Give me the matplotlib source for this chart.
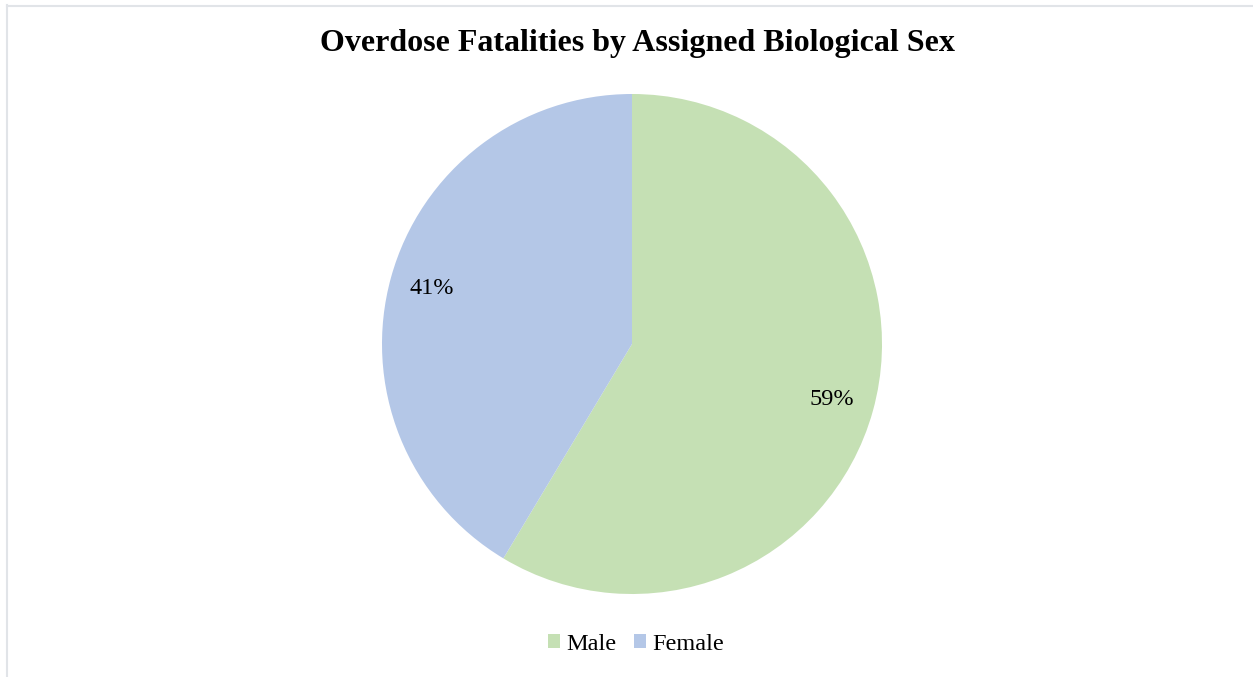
import matplotlib.pyplot as plt
from matplotlib.lines import Line2D

plt.rcParams['font.family'] = ['Liberation Serif', 'DejaVu Serif']

labels = ['Male', 'Female']
values = [58.6, 41.4]
colors = ['#C5E0B4', '#B4C7E7']

W, H = 1253, 677
fig = plt.figure(figsize=(W / 100, H / 100), dpi=100)

# light frame (top and left edges visible)
fig.add_artist(Line2D([7 / W, 7 / W], [0, 1 - 5 / H], color='#E1E4E8', lw=1.5))
fig.add_artist(Line2D([7 / W, 1], [1 - 6 / H, 1 - 6 / H], color='#E1E4E8', lw=1.5))

cx, cy, r = 632, 344, 250
ax = fig.add_axes([(cx - r) / W, (H - cy - r) / H, 2 * r / W, 2 * r / H])
wedges, texts, autotexts = ax.pie(values, colors=colors, startangle=90, counterclock=False,
                                  autopct='%1.0f%%', pctdistance=0.83, radius=1,
                                  textprops={'fontsize': 17.5, 'color': 'black'})
ax.set_xlim(-1, 1)
ax.set_ylim(-1, 1)
ax.set_aspect('equal')

fig.text(637 / W, 1 - 43 / H, 'Overdose Fatalities by Assigned Biological Sex',
         ha='center', va='center', fontsize=23, fontweight='bold')

fig.legend(wedges, labels, loc='center', bbox_to_anchor=(636 / W, 1 - 644 / H), ncol=2,
           frameon=False, fontsize=17.5, handlelength=0.5, handleheight=0.5,
           handletextpad=0.25, columnspacing=0.7)

fig.savefig('out.png', dpi=100)
